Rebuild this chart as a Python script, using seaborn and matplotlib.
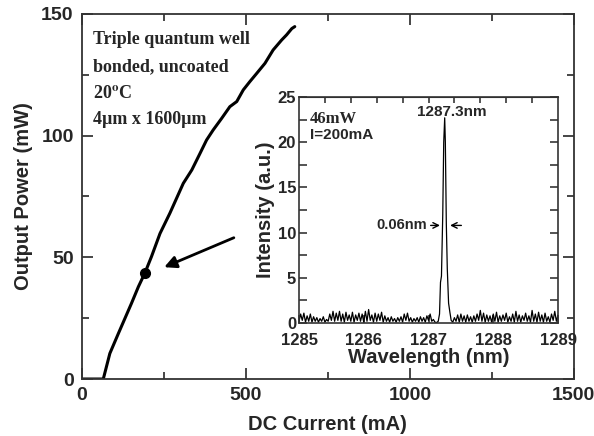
import numpy as np
import pandas as pd
import matplotlib
matplotlib.use("Agg")
import matplotlib.pyplot as plt
import seaborn as sns

# L-I curve
current_ma = [0, 55, 65, 85, 111, 131, 151, 172, 192, 212, 238, 268, 309, 335, 360,
              380, 400, 426, 451, 472, 492, 512, 533, 558, 583, 609, 624, 640, 649]
power_mw = [0, 0, 0, 10.5, 18.7, 24.9, 31.1, 37.9, 43.6, 50.3, 59.8, 68.1, 80.4, 85.9, 92.7,
            98.2, 102.3, 107.1, 111.9, 114.0, 118.8, 122.2, 125.6, 129.7, 135.2, 139.3, 141.4, 144.0, 144.8]
op_current, op_power = 192, 43.6

# spectrum: noise floor left and right of the lasing line, plus the line itself
noise_left = [0.2, 1.0, 0.3, 1.1, 0.1, 0.8, 0.2, 1.0, 0.1, 0.7, 0.2, 0.6, 0.1, 0.5, 0.2, 0.7, 0.1, 0.4, 0.2, 1.0,
              0.3, 1.3, 0.2, 1.1, 0.3, 1.3, 0.2, 1.0, 0.1, 1.2, 0.3, 0.9, 0.2, 1.2, 0.1, 0.9, 0.3, 1.1, 0.2, 1.0,
              0.1, 1.3, 0.2, 1.5, 0.3, 0.9, 0.1, 1.1, 0.2, 1.0, 0.3, 1.2, 0.1, 0.8, 0.2, 0.6, 0.1, 0.7, 0.2, 0.5,
              0.1, 0.6, 0.2, 0.7, 0.1, 1.0, 0.3, 1.1, 0.2, 0.6, 0.1, 0.5, 0.2, 0.6, 0.1, 0.7, 0.2, 0.6, 0.1, 0.8,
              0.3, 1.0, 0.2, 0.4, 0.1]
noise_right = [0.1, 0.6, 0.2, 0.9, 0.1, 1.0, 0.2, 0.8, 0.1, 0.9, 0.2, 0.7, 0.1, 0.8, 0.2, 1.0, 0.3, 1.4, 0.2, 1.1,
               0.1, 0.9, 0.2, 0.8, 0.1, 1.0, 0.2, 1.2, 0.1, 0.8, 0.2, 0.9, 0.3, 1.1, 0.1, 0.7, 0.2, 1.0, 0.1, 1.3,
               0.2, 0.9, 0.1, 0.8, 0.3, 1.1, 0.2, 0.8, 0.1, 1.4, 0.2, 1.0, 0.1, 1.2, 0.2, 0.9, 0.1, 1.1, 0.2, 0.7,
               0.1, 1.0, 0.3, 1.3, 0.2, 0.9]
peak_wl = [1287.125, 1287.15, 1287.17, 1287.185, 1287.2, 1287.22, 1287.235, 1287.25,
           1287.26, 1287.275, 1287.29, 1287.31, 1287.33, 1287.35]
peak_int = [0.05, 0.2, 1.0, 4.5, 5.2, 12.0, 20.0, 22.7, 20.0, 11.0, 6.0, 2.2, 1.2, 0.3]

wl = np.concatenate([np.linspace(1285.0, 1287.1, len(noise_left)), peak_wl,
                     np.linspace(1287.375, 1289.0, len(noise_right))])
inten = np.concatenate([noise_left, peak_int, noise_right])
spec = pd.DataFrame({"wl": wl, "I": inten})
li = pd.DataFrame({"I": current_ma, "P": power_mw})

sns.set_style("ticks")
plt.rcParams["font.family"] = ["Liberation Sans", "DejaVu Sans"]
plt.rcParams["font.weight"] = "bold"
plt.rcParams["mathtext.fontset"] = "stix"

fig = plt.figure(figsize=(5.94, 4.36), dpi=100)
ax = fig.add_axes([0.138, 0.1307, 0.828, 0.8373])

sns.lineplot(data=li, x="I", y="P", ax=ax, color="black", lw=2.2, sort=False)
ax.plot([op_current], [op_power], "o", color="black", ms=7)
ax.annotate("", xy=(243, 45.5), xytext=(471, 58.5),
            arrowprops=dict(arrowstyle="-|>", color="black", lw=2, mutation_scale=18))

ax.set_xlim(0, 1500)
ax.set_ylim(0, 150)
ax.set_xticks([0, 500, 1000, 1500])
ax.set_yticks([0, 50, 100, 150])
ax.set_xticks([250, 750, 1250], minor=True)
ax.set_yticks([25, 75, 125], minor=True)
ax.tick_params(which="both", direction="in", top=True, right=True, labelsize=14, width=1.2)
ax.tick_params(which="major", length=8, pad=6)
ax.tick_params(which="minor", length=5)
for lab in ax.get_xticklabels() + ax.get_yticklabels():
    lab.set_fontweight("bold")
for s in ax.spines.values():
    s.set_linewidth(1.3)
    s.set_color("#333333")
ax.set_xlabel("DC Current (mA)", fontsize=14.5, fontweight="bold", labelpad=8)
ax.set_ylabel("Output Power (mW)", fontsize=14.5, fontweight="bold", labelpad=6)

serif = dict(family=["Liberation Serif", "DejaVu Serif"], fontweight="bold", fontsize=13,
             transform=ax.transData, va="center", ha="left")
ax.text(33, 139.5, "Triple quantum well", **serif)
ax.text(33, 128.5, "bonded, uncoated", **serif)
ax.text(33, 117.5, r"20$^{\mathbf{o}}$C", **serif)
ax.text(33, 106.5, "4µm x 1600µm", **serif)

# inset spectrum
ins = fig.add_axes([0.5034, 0.259, 0.436, 0.5185])
sns.lineplot(data=spec, x="wl", y="I", ax=ins, color="black", lw=0.9, sort=False)
ins.set_xlim(1285, 1289)
ins.set_ylim(0, 25)
ins.set_xticks([1285, 1286, 1287, 1288, 1289])
ins.set_yticks([0, 5, 10, 15, 20, 25])
ins.set_yticks([2.5, 7.5, 12.5, 17.5, 22.5], minor=True)
ins.tick_params(which="both", direction="in", right=True, labelsize=12, width=1.1)
ins.tick_params(which="major", length=6)
ins.tick_params(which="minor", length=6)
ins.tick_params(axis="x", pad=7.5)
ins.tick_params(axis="y", pad=2)
for lab in ins.get_xticklabels() + ins.get_yticklabels():
    lab.set_fontweight("bold")
for s in ins.spines.values():
    s.set_linewidth(1.2)
    s.set_color("#333333")
top = ins.secondary_xaxis("top")
top.set_xticks(np.arange(1285.4, 1288.9, 0.4))
top.tick_params(direction="in", length=4, width=1.1, labeltop=False)
ins.set_xlabel("Wavelength (nm)", fontsize=14.5, fontweight="bold", labelpad=0)
ins.set_ylabel("Intensity (a.u.)", fontsize=14.5, fontweight="bold", labelpad=2)

ins.text(1287.36, 23.3, "1287.3nm", fontsize=11, fontweight="bold", ha="center", va="center")
ins.text(1285.17, 22.6, "46mW", family=["Liberation Serif", "DejaVu Serif"], fontsize=12,
         fontweight="bold", ha="left", va="center")
ins.text(1285.17, 20.8, "I=200mA", fontsize=11, fontweight="bold", ha="left", va="center")
ins.text(1286.97, 10.8, "0.06nm", fontsize=10.5, fontweight="bold", ha="right", va="center")
ins.annotate("", xy=(1287.22, 10.8), xytext=(1286.99, 10.8),
             arrowprops=dict(arrowstyle="->", color="black", lw=1))
ins.annotate("", xy=(1287.29, 10.8), xytext=(1287.55, 10.8),
             arrowprops=dict(arrowstyle="->", color="black", lw=1))

fig.savefig("out.png", dpi=100)
